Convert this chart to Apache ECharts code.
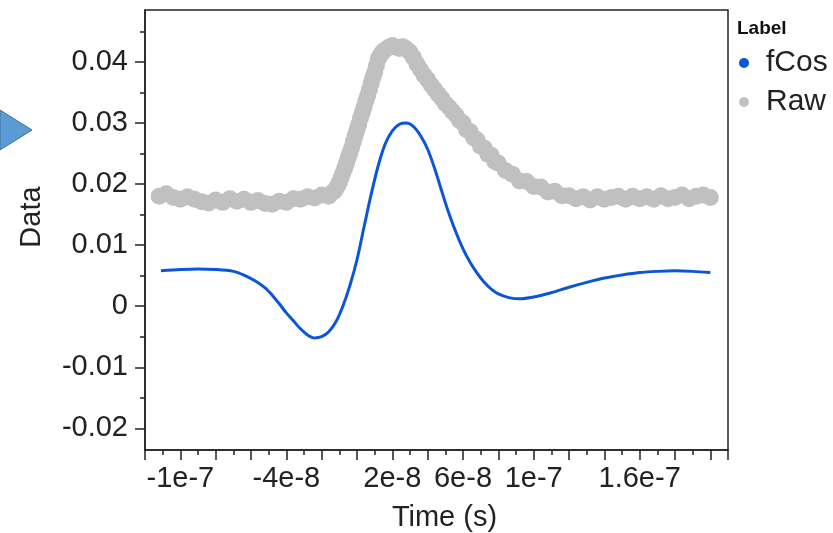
<!DOCTYPE html>
<html><head><meta charset="utf-8">
<script src="https://cdn.jsdelivr.net/npm/echarts@6/dist/echarts.min.js"></script>
<style>html,body{margin:0;padding:0;background:#fff}#c{width:833px;height:533px}</style>
</head><body><div id="c"></div>
<script>
// fCos fitted curve: time in ns, value
const fcosTimeNs = [-111,-100,-90,-80,-70,-64,-58,-52,-48,-44,-40,-36,-32,-28,-24,-20,-16,-12,-8,-4,0,4,8,12,16,20,24,28,32,36,40,44,48,52,56,60,64,68,72,76,80,86,92,100,110,120,130,140,150,160,170,180,190,200];
const fcosValues = [0.0058,0.0060,0.0061,0.0060,0.0057,0.0051,0.0042,0.0030,0.0018,0.0004,-0.0011,-0.0024,-0.0037,-0.0047,-0.0052,-0.0050,-0.0042,-0.0026,0.0000,0.0034,0.0076,0.0130,0.0183,0.0230,0.0266,0.0287,0.0298,0.0300,0.0294,0.0279,0.0257,0.0225,0.0188,0.0152,0.0121,0.0094,0.0072,0.0054,0.0039,0.0028,0.0020,0.0014,0.0012,0.0015,0.0022,0.0031,0.0039,0.0046,0.0051,0.0055,0.0057,0.0058,0.0057,0.0055];

// Raw measured data: time in ns, value
const rawTimeNs = [-112,-108,-104,-100,-96,-92,-88,-84,-80,-76,-72,-68,-64,-60,-56,-52,-48,-44,-40,-36,-32,-28,-24,-20,-16,
  -14,-13,-12,-11,-10,-9,-8,-7,-6,-5,-4,-3,-2,-1,0,1,2,3,4,5,6,7,8,9,10,11,12,13,14,15,16,
  18,20,22,24,26,28,30,32,34,36,38,40,42,44,46,48,50,52,54,56,58,60,62,64,66,68,70,72,74,76,78,80,
  84,88,92,96,100,104,108,112,116,120,124,128,132,136,140,144,148,152,156,160,164,168,172,176,180,184,188,192,196,200];
const rawValues = [0.0180,0.0184,0.0178,0.0175,0.0179,0.0175,0.0171,0.0169,0.0174,0.0170,0.0176,0.0172,0.0175,0.0170,0.0173,0.0168,0.0167,0.0172,0.0170,0.0176,0.0175,0.0179,0.0177,0.0182,0.0180,
  0.0186,0.0188,0.0192,0.0197,0.0203,0.0210,0.0218,0.0226,0.0234,0.0243,0.0251,0.0260,0.0270,0.0280,0.0289,0.0298,0.0308,0.0317,0.0326,0.0336,0.0345,0.0354,0.0365,0.0375,0.0383,0.0394,0.0405,0.0410,0.0414,0.0418,0.0420,
  0.0424,0.0427,0.0424,0.0422,0.0425,0.0421,0.0416,0.0407,0.0396,0.0387,0.0378,0.0371,0.0362,0.0355,0.0347,0.0340,0.0332,0.0326,0.0319,0.0313,0.0304,0.0300,0.0289,0.0286,0.0276,0.0272,0.0262,0.0259,0.0249,0.0247,0.0237,0.0234,
  0.0222,0.0216,0.0205,0.0204,0.0196,0.0195,0.0187,0.0188,0.0181,0.0181,0.0176,0.0179,0.0174,0.0179,0.0175,0.0178,0.0180,0.0175,0.0180,0.0176,0.0179,0.0175,0.0181,0.0176,0.0178,0.0182,0.0176,0.0180,0.0182,0.0178];

// Axis ticks and labels
const xMajorTicks = [-1.2e-7,-1e-7,-8e-8,-6e-8,-4e-8,-2e-8,0,2e-8,4e-8,6e-8,8e-8,1e-7,1.2e-7,1.4e-7,1.6e-7,1.8e-7,2e-7,2.1e-7];
const xMinorTicks = [-1.1e-7,-9e-8,-7e-8,-5e-8,-3e-8,-1e-8,1e-8,3e-8,5e-8,7e-8,9e-8,1.1e-7,1.3e-7,1.5e-7,1.7e-7,1.9e-7];
const xTickValues = [-1e-7,-4e-8,2e-8,6e-8,1e-7,1.6e-7];
const xTickLabels = ['-1e-7','-4e-8','2e-8','6e-8','1e-7','1.6e-7'];
const yTickValues = [-0.02,-0.01,0,0.01,0.02,0.03,0.04];
const yTickLabels = ['-0.02','-0.01','0','0.01','0.02','0.03','0.04'];
const yMinorTicks = [-0.015,-0.005,0.005,0.015,0.025,0.035,0.045];
const seriesNames = ['fCos','Raw'];

const X_MIN = -1.2e-7, X_MAX = 2.1e-7, Y_MIN = -0.02355, Y_MAX = 0.0485;
const FONT = '"Liberation Sans", Arial, sans-serif';
const AX = '#222';
const TXT = '#222';

function lookup(vals, labels, v){
  for (let i=0;i<vals.length;i++){ if (Math.abs(vals[i]-v) < Math.abs(vals[i])*1e-6 + 1e-15) return labels[i]; }
  return '';
}

const fcosData = fcosTimeNs.map((t,i)=>[t*1e-9, fcosValues[i]]);
const rawData = rawTimeNs.map((t,i)=>[t*1e-9, rawValues[i]]);

const chart = echarts.init(document.getElementById('c'), null, {renderer:'canvas'});
chart.setOption({
  animation:false,
  backgroundColor:'#fff',
  textStyle:{fontFamily:FONT},
  grid:{left:145,right:105,top:10,bottom:83,containLabel:false,outerBoundsMode:'none',show:true,borderColor:AX,borderWidth:1.5,backgroundColor:'transparent'},
  title:{text:'Label',left:737,top:19,padding:0,textStyle:{fontFamily:FONT,fontSize:19,fontWeight:'bold',color:'#111'}},
  legend:{orient:'vertical',left:739,top:48,padding:0,icon:'circle',itemWidth:10,itemHeight:10,itemGap:9,
    data:seriesNames,textStyle:{fontFamily:FONT,fontSize:30,color:TXT,padding:[0,0,0,12]}},
  graphic:[
    {type:'polygon',shape:{points:[[0,110],[32,130],[0,150]]},style:{fill:'#5b9bd5',stroke:'#41719c',lineWidth:1}},
    {type:'text',x:32,y:217,rotation:Math.PI/2,style:{text:'Data',font:'29px "Liberation Sans", Arial, sans-serif',fill:TXT,textAlign:'center',textVerticalAlign:'middle'}}
  ],
  xAxis:[{
    type:'value',min:X_MIN,max:X_MAX,position:'bottom',
    name:'Time (s)',nameLocation:'middle',nameGap:53,nameTextStyle:{fontFamily:FONT,fontSize:29,color:TXT,padding:[0,0,0,16]},
    axisLine:{show:true,onZero:false,lineStyle:{color:AX,width:1.5}},
    axisTick:{show:true,length:10,lineStyle:{color:AX,width:1.5},customValues:xMajorTicks},
    axisLabel:{show:true,margin:14,fontFamily:FONT,fontSize:29,color:TXT,customValues:xTickValues,
      formatter:v=>lookup(xTickValues,xTickLabels,v)},
    splitLine:{show:false}
  },{
    type:'value',min:X_MIN,max:X_MAX,position:'bottom',
    axisLine:{show:false,onZero:false},axisLabel:{show:false},splitLine:{show:false},
    axisTick:{show:true,length:5,lineStyle:{color:AX,width:1.5},customValues:xMinorTicks}
  }],
  yAxis:[{
    type:'value',min:Y_MIN,max:Y_MAX,position:'left',
    axisLine:{show:true,onZero:false,lineStyle:{color:AX,width:1.5}},
    axisTick:{show:true,length:10,lineStyle:{color:AX,width:1.5},customValues:yTickValues},
    axisLabel:{show:true,margin:17,fontFamily:FONT,fontSize:29,color:TXT,customValues:yTickValues,
      formatter:v=>lookup(yTickValues,yTickLabels,v)},
    splitLine:{show:false}
  },{
    type:'value',min:Y_MIN,max:Y_MAX,position:'left',
    axisLine:{show:false,onZero:false},axisLabel:{show:false},splitLine:{show:false},
    axisTick:{show:true,length:5,lineStyle:{color:AX,width:1.5},customValues:yMinorTicks}
  }],
  series:[
    {name:'Raw',type:'scatter',xAxisIndex:0,yAxisIndex:0,data:rawData,symbol:'circle',symbolSize:17,
      itemStyle:{color:'#c0c0c0',opacity:1},z:2},
    {name:'fCos',type:'line',xAxisIndex:0,yAxisIndex:0,data:fcosData,smooth:0.3,showSymbol:false,
      lineStyle:{color:'#0b55d9',width:3},itemStyle:{color:'#0b55d9'},z:3}
  ]
});
</script></body></html>
